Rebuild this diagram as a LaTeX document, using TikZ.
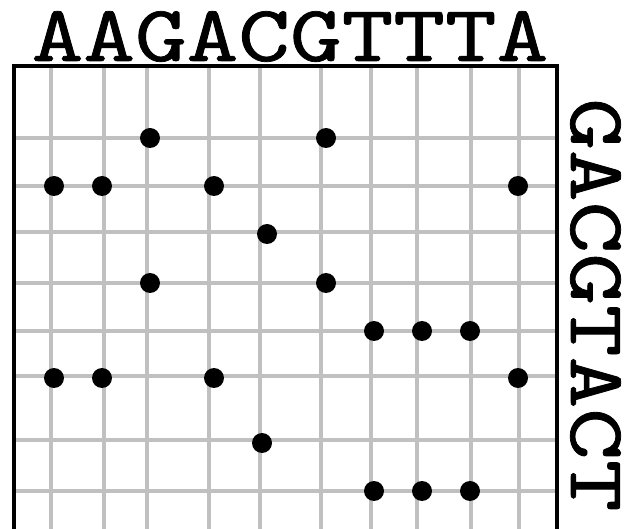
\documentclass[tikz,border=0pt]{standalone}
\usepackage{fontspec}
\newfontfamily\seqfont{lmmono10-regular.otf}[FakeBold=0.9]
\begin{document}
\begin{tikzpicture}[x=1pt,y=-1pt,
  gridline/.style={draw={rgb,255:red,192;green,192;blue,192},line width=4pt},
  frameline/.style={draw=black,line width=3.5pt},
  dotmark/.style={circle,fill=black,inner sep=0pt,minimum size=20pt},
  seqlabel/.style={font=\seqfont\fontsize{80}{80}\selectfont,inner sep=0pt}]
\useasboundingbox (0,0) rectangle (627,529);
\clip (0,0) rectangle (627,529);
% grid
\foreach \gx in {51,104,147,209,260,321,371,417,471,519}
  \draw[gridline] (\gx,66) -- (\gx,540);
\foreach \gy in {138,186,232,283,331,376,440,491}
  \draw[gridline] (14,\gy) -- (557,\gy);
% frame
\draw[frameline] (14,540) -- (14,66) -- (557,66) -- (557,540);
% labels
\node[seqlabel,anchor=base] (top) at (290,61) {\scalebox{1.23}[1]{AAGACGTTTA}};
\node[seqlabel,anchor=base,rotate=-90] (right) at (571,305) {\scalebox{1.23}[1]{GACGTACT}};
% dots
\foreach \dx/\dy [count=\i] in {150/138,326/138,
  54/186,102/186,214/186,518/186,
  267/234,
  150/283,326/283,
  374/331,422/331,470/331,
  54/378,102/378,214/378,518/378,
  262/443,
  374/491,422/491,470/491}
  \node[dotmark] (d\i) at (\dx,\dy) {};
\end{tikzpicture}
\end{document}
